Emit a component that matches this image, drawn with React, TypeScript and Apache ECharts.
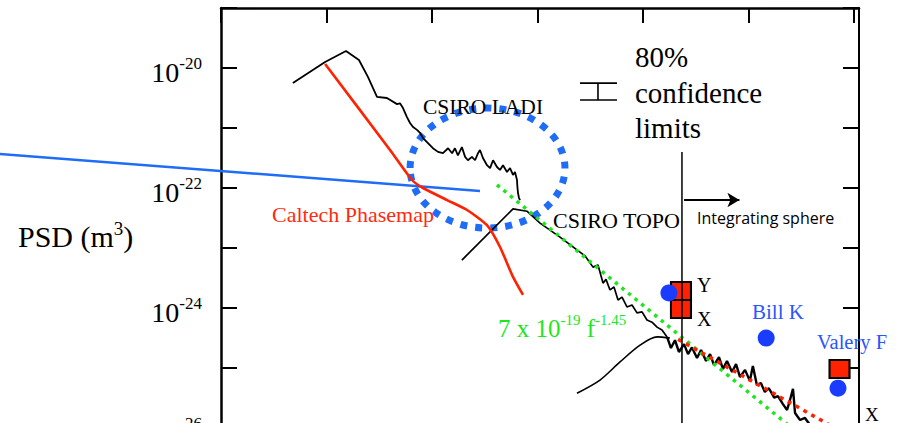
import React, { useEffect, useRef } from 'react';
import * as echarts from 'echarts';

// Axis ranges (x: spatial frequency, y: PSD in m^3)
const xMin = 1;
const xMax = 1.115e6;
const yMin = 1e-26;
const yMax = 1e-19;
const yLabelExponents = [-20, -22, -24, -26];
// PSD values are plotted in units of 1e-26 m^3 (labels show the true powers of ten)
const PSD_UNIT = 1e-26;
const PSD_UNIT_EXP = -26;

// Curves: [frequency, PSD]
const csiroLadi: number[][] = [
  [4.8, 5.6e-21], [9.7, 1.26e-20], [15.3, 1.92e-20], [20.3, 1.36e-20], [24.7, 7.1e-21],
  [30.1, 3.3e-21], [37.4, 3.16e-21], [46.6, 2.5e-21], [49.7, 2.58e-21], [53.1, 2.15e-21],
  [57.9, 1.52e-21], [61.9, 1.21e-21], [66.1, 1.04e-21], [72.1, 9.3e-22], [77.0, 8.3e-22],
  [82.2, 6.8e-22], [91.6, 5.6e-22], [102, 4.6e-22], [114, 4.0e-22], [127, 3.8e-22],
  [142, 4.6e-22], [155, 3.8e-22], [165, 4.6e-22], [176, 3.5e-22], [192, 4.8e-22],
  [206, 3.3e-22], [219, 2.9e-22], [239, 3.3e-22], [256, 2.9e-22], [273, 3.8e-22],
  [285, 4.3e-22], [304, 3.16e-22], [332, 2.4e-22], [355, 2.15e-22], [379, 2.9e-22],
  [413, 2.24e-22], [441, 2.0e-22], [471, 2.4e-22], [514, 1.85e-22], [549, 2.15e-22],
  [586, 1.65e-22], [612, 1.85e-22], [639, 1.36e-22], [645, 1.04e-22], [653, 8.3e-23],
  [668, 6.8e-23], [683, 6.3e-23],
];

const csiroTopo: number[][] = [
  [192, 6.3e-24], [586, 4.5e-23], [794, 4.1e-23], [1057, 2.6e-23], [1634, 1.52e-23],
  [2366, 9.3e-24], [2818, 7.4e-24], [3357, 4.8e-24], [3743, 5.2e-24], [4178, 2.6e-24],
  [4460, 3.0e-24], [4864, 2.0e-24], [5309, 2.24e-24], [5794, 1.36e-24], [6324, 1.52e-24],
  [7047, 1.04e-24], [7870, 1.12e-24], [8770, 8.3e-25], [9790, 8.6e-25], [10910, 6.3e-25],
  [12170, 5.8e-25], [13580, 4.8e-25], [15140, 4.3e-25], [16900, 3.3e-25],
];

const topoHighFreq: number[][] = [
  [16900, 3.3e-25],
  [1.84e4, 2.15e-25], [2.01e4, 2.9e-25], [2.19e4, 1.85e-25], [2.45e4, 2.5e-25],
  [2.67e4, 1.7e-25], [2.91e4, 2.2e-25], [3.25e4, 1.47e-25], [3.55e4, 2.0e-25],
  [3.96e4, 1.31e-25], [4.32e4, 1.7e-25], [4.71e4, 1.12e-25], [5.25e4, 1.52e-25],
  [5.73e4, 9.6e-26], [6.25e4, 1.31e-25], [6.98e4, 8.6e-26], [7.62e4, 1.16e-25],
  [8.3e4, 7.1e-26], [9.27e4, 9.3e-26], [1.03e5, 6.1e-26], [1.10e5, 1.08e-25],
  [1.20e5, 5.2e-26], [1.31e5, 5.6e-26], [1.43e5, 4.0e-26], [1.56e5, 4.6e-26],
  [1.75e5, 3.2e-26], [1.90e5, 3.4e-26], [2.12e5, 2.5e-26], [2.32e5, 2.0e-26],
  [2.47e5, 2.9e-26], [2.64e5, 4.5e-26], [2.76e5, 1.78e-26], [3.08e5, 1.36e-26],
  [3.43e5, 1.47e-26], [3.83e5, 1.12e-26], [4.76e5, 8.5e-27],
];

const sphereCurve: number[][] = [
  [2366, 3.8e-26], [3910, 6.3e-26], [6053, 1.26e-25], [9370, 2.4e-25], [13580, 3.3e-25], [1.8e4, 3.16e-25],
];

const caltechPhasemap: number[][] = [
  [9.7, 1.17e-20], [40, 4.3e-22], [64.6, 1.36e-22], [82.2, 1.0e-22], [139, 6.3e-23],
  [215, 4.3e-23], [332, 2.4e-23], [441, 1.04e-23], [586, 3.3e-24], [729, 1.65e-24],
];

const blueLine: number[][] = [[0.008, 3.7e-22], [285, 8.9e-23]];
const fitLine: number[][] = [[413, 1.13e-22], [3.0e5, 8.0e-27]];
const redDotted: number[][] = [[2.15e4, 3.0e-25], [7.4e5, 8.9e-27]];
const sphereBoundary: number[][] = [[2.34e4, 4.0e-22], [2.34e4, 5e-27]];
const arrowFrom = [2.45e4, 6.3e-23];
const arrowTo = [8.2e4, 6.3e-23];
const redSquares: number[][] = [[2.29e4, 1.92e-24], [2.29e4, 9.6e-25], [7.29e5, 9.6e-26]];
const blueDots: number[][] = [[1.76e4, 1.78e-24], [1.47e5, 3.16e-25], [7.05e5, 4.6e-26]];
const ladiEllipse: number[][] = [[62, 2.15e-21, 1820, 2.15e-23]];
const confidenceBar: number[][] = [[2529, 3743, 5673, 5.6e-21, 2.93e-21]];

const SERIF = 'Liberation Serif';
const BLUE_DASH = '#1f6cf6';
const BLUE_DOT = '#1a3cff';
const BLUE_TEXT = '#2a55ff';
const RED = '#ff2200';
const GREEN = '#1ee61e';

const toPlot = (pts: number[][]) => pts.map((p) => [p[0], p[1] / PSD_UNIT]);

export default function App() {
  const ref = useRef<HTMLDivElement>(null);
  useEffect(() => {
    if (!ref.current) return;
    const chart = echarts.init(ref.current, null, { renderer: 'svg' });
    const supRich = {
      b: { fontSize: 28, lineHeight: 34, fontFamily: SERIF, color: '#000' },
      s: { fontSize: 17, lineHeight: 17, fontFamily: SERIF, color: '#000', verticalAlign: 'top' },
    };
    const txt = (text: string, x: number, y: number, size: number, fill = '#000', family = SERIF) => ({
      type: 'text', x, y, z: 100,
      style: { text, fontSize: size, fontFamily: family, fill, align: 'left', verticalAlign: 'middle' },
    });
    const lineSeries = (data: number[][], color: string, width: number, extra: any = {}) => ({
      type: 'line', data: toPlot(data), showSymbol: false, symbol: 'none', silent: true,
      lineStyle: { color, width }, ...extra,
    });
    const ellipseData = ladiEllipse.map((d) => [d[0], d[1] / PSD_UNIT, d[2], d[3] / PSD_UNIT]);
    const barData = confidenceBar.map((d) => [d[0], d[1], d[2], d[3] / PSD_UNIT, d[4] / PSD_UNIT]);
    const blueSeg = [[blueLine[0][0], blueLine[0][1] / PSD_UNIT, blueLine[1][0], blueLine[1][1] / PSD_UNIT]];
    chart.setOption({
      animation: false,
      grid: { left: 221, top: 8, width: 638, height: 420, show: false, containLabel: false, outerBoundsMode: 'none' },
      xAxis: {
        type: 'log', logBase: 10, min: xMin, max: xMax, position: 'top',
        axisLine: { show: true, lineStyle: { color: '#000', width: 2.5 } },
        axisTick: { show: true, inside: true, length: 15, lineStyle: { color: '#000', width: 2 } },
        axisLabel: { show: false }, splitLine: { show: false }, minorTick: { show: false },
      },
      yAxis: [
        {
          type: 'log', logBase: 10, min: yMin / PSD_UNIT, max: yMax / PSD_UNIT, position: 'left',
          axisLine: { show: true, lineStyle: { color: '#000', width: 2.5 } },
          axisTick: { show: true, inside: true, length: 16, lineStyle: { color: '#000', width: 2 } },
          splitLine: { show: false },
          axisLabel: {
            margin: 19, padding: [8, 0, 0, 0],
            formatter: (v: number) => {
              const e = Math.round(Math.log10(v)) + PSD_UNIT_EXP;
              return yLabelExponents.includes(e) ? `{b|10}{s|${e}}` : '';
            },
            rich: supRich,
          },
        },
        {
          type: 'log', logBase: 10, min: yMin / PSD_UNIT, max: yMax / PSD_UNIT, position: 'right',
          axisLine: { show: true, lineStyle: { color: '#000', width: 2 } },
          axisTick: { show: true, inside: true, length: 16, lineStyle: { color: '#000', width: 2 } },
          axisLabel: { show: false }, splitLine: { show: false },
        },
      ],
      series: [
        {
          type: 'custom', silent: true, data: ellipseData, encode: { x: [0, 2], y: [1, 3] }, z: 3,
          renderItem: (_p: any, api: any) => {
            const a = api.coord([api.value(0), api.value(1)]);
            const b = api.coord([api.value(2), api.value(3)]);
            return {
              type: 'ellipse',
              shape: { cx: (a[0] + b[0]) / 2, cy: (a[1] + b[1]) / 2, rx: Math.abs(b[0] - a[0]) / 2, ry: Math.abs(b[1] - a[1]) / 2 },
              style: { fill: 'none', stroke: BLUE_DASH, lineWidth: 7, lineDash: [7, 8] },
            };
          },
        },
        {
          type: 'custom', silent: true, data: barData, encode: { x: [0, 1, 2], y: [3, 4] },
          renderItem: (_p: any, api: any) => {
            const tl = api.coord([api.value(0), api.value(3)]);
            const tr = api.coord([api.value(2), api.value(3)]);
            const bl = api.coord([api.value(0), api.value(4)]);
            const br = api.coord([api.value(2), api.value(4)]);
            const st = api.coord([api.value(1), api.value(3)]);
            const sb = api.coord([api.value(1), api.value(4)]);
            const s = { stroke: '#000', lineWidth: 1.6 };
            return {
              type: 'group', children: [
                { type: 'line', shape: { x1: tl[0], y1: tl[1], x2: tr[0], y2: tr[1] }, style: s },
                { type: 'line', shape: { x1: bl[0], y1: bl[1], x2: br[0], y2: br[1] }, style: s },
                { type: 'line', shape: { x1: st[0], y1: st[1], x2: sb[0], y2: sb[1] }, style: s },
              ],
            };
          },
        },
        lineSeries(csiroLadi, '#000', 1.8),
        lineSeries(csiroTopo, '#000', 1.7),
        lineSeries(topoHighFreq, '#000', 2.4),
        lineSeries(sphereCurve, '#000', 1.6, { smooth: 0.3 }),
        lineSeries(caltechPhasemap, RED, 2.6, { smooth: 0.2 }),
        {
          type: 'custom', silent: true, clip: false, data: blueSeg, encode: { x: [0, 2], y: [1, 3] }, z: 3,
          renderItem: (_p: any, api: any) => {
            const a = api.coord([api.value(0), api.value(1)]);
            const b = api.coord([api.value(2), api.value(3)]);
            return {
              type: 'line', shape: { x1: a[0], y1: a[1], x2: b[0], y2: b[1] },
              style: { stroke: BLUE_DASH, lineWidth: 2.4 },
            };
          },
        },
        lineSeries(fitLine, GREEN, 3.5, { lineStyle: { color: GREEN, width: 3.5, type: [3.5, 5] } }),
        lineSeries(redDotted, RED, 3.5, { lineStyle: { color: RED, width: 3.5, type: [4, 5] } }),
        {
          type: 'scatter', silent: true, data: toPlot(redSquares), symbol: 'rect', symbolSize: [20, 18],
          itemStyle: { color: RED, borderColor: '#000', borderWidth: 2, opacity: 1 }, z: 4,
        },
        lineSeries(sphereBoundary, '#000', 1.5, { z: 5 }),
        {
          type: 'scatter', silent: true, data: toPlot(blueDots), symbol: 'circle', symbolSize: 17,
          itemStyle: { color: BLUE_DOT, opacity: 1 }, z: 6,
        },
        {
          type: 'line', data: [], silent: true,
          markLine: {
            silent: true, symbol: ['none', 'arrow'], symbolSize: [11, 12], animation: false,
            label: { show: false },
            lineStyle: { color: '#000', width: 2, type: 'solid' },
            data: [[{ coord: [arrowFrom[0], arrowFrom[1] / PSD_UNIT] }, { coord: [arrowTo[0], arrowTo[1] / PSD_UNIT] }]],
          },
        },
      ],
      graphic: {
        elements: [
          {
            type: 'text', x: 18, y: 236.5, z: 100,
            style: {
              text: '{a|PSD (m}{s|3}{a|)}', align: 'left', verticalAlign: 'middle',
              rich: {
                a: { fontSize: 30, lineHeight: 36, fontFamily: SERIF, fill: '#000' },
                s: { fontSize: 19, lineHeight: 23, fontFamily: SERIF, fill: '#000', verticalAlign: 'top' },
              },
            },
          },
          txt('CSIRO LADI', 423, 107, 21.5),
          txt('Caltech Phasemap', 272, 214, 22, '#ff2a10'),
          txt('CSIRO TOPO', 553, 220, 22),
          txt('80%', 635, 57, 29),
          txt('confidence', 635, 92.5, 29),
          txt('limits', 635, 128, 29),
          txt('Integrating sphere', 697, 218, 16, '#000', 'Open Sans'),
          txt('Y', 697, 285, 20),
          txt('X', 697, 319, 20),
          txt('Bill K', 752, 312, 21, BLUE_TEXT),
          txt('Valery F', 817, 342, 20.5, BLUE_TEXT),
          txt('X', 865, 414, 19),
          {
            type: 'text', x: 498, y: 328, z: 100,
            style: {
              text: '{a|7 x 10}{s|-19}{a| f}{s|-1.45}', align: 'left', verticalAlign: 'middle',
              rich: {
                a: { fontSize: 25, lineHeight: 32, fontFamily: SERIF, fill: GREEN },
                s: { fontSize: 15, lineHeight: 16, fontFamily: SERIF, fill: GREEN, verticalAlign: 'top' },
              },
            },
          },
        ],
      },
    });
    return () => chart.dispose();
  }, []);
  return <div ref={ref} style={{ position: 'fixed', left: 0, top: 0, width: 900, height: 440, background: '#fff' }} />;
}
